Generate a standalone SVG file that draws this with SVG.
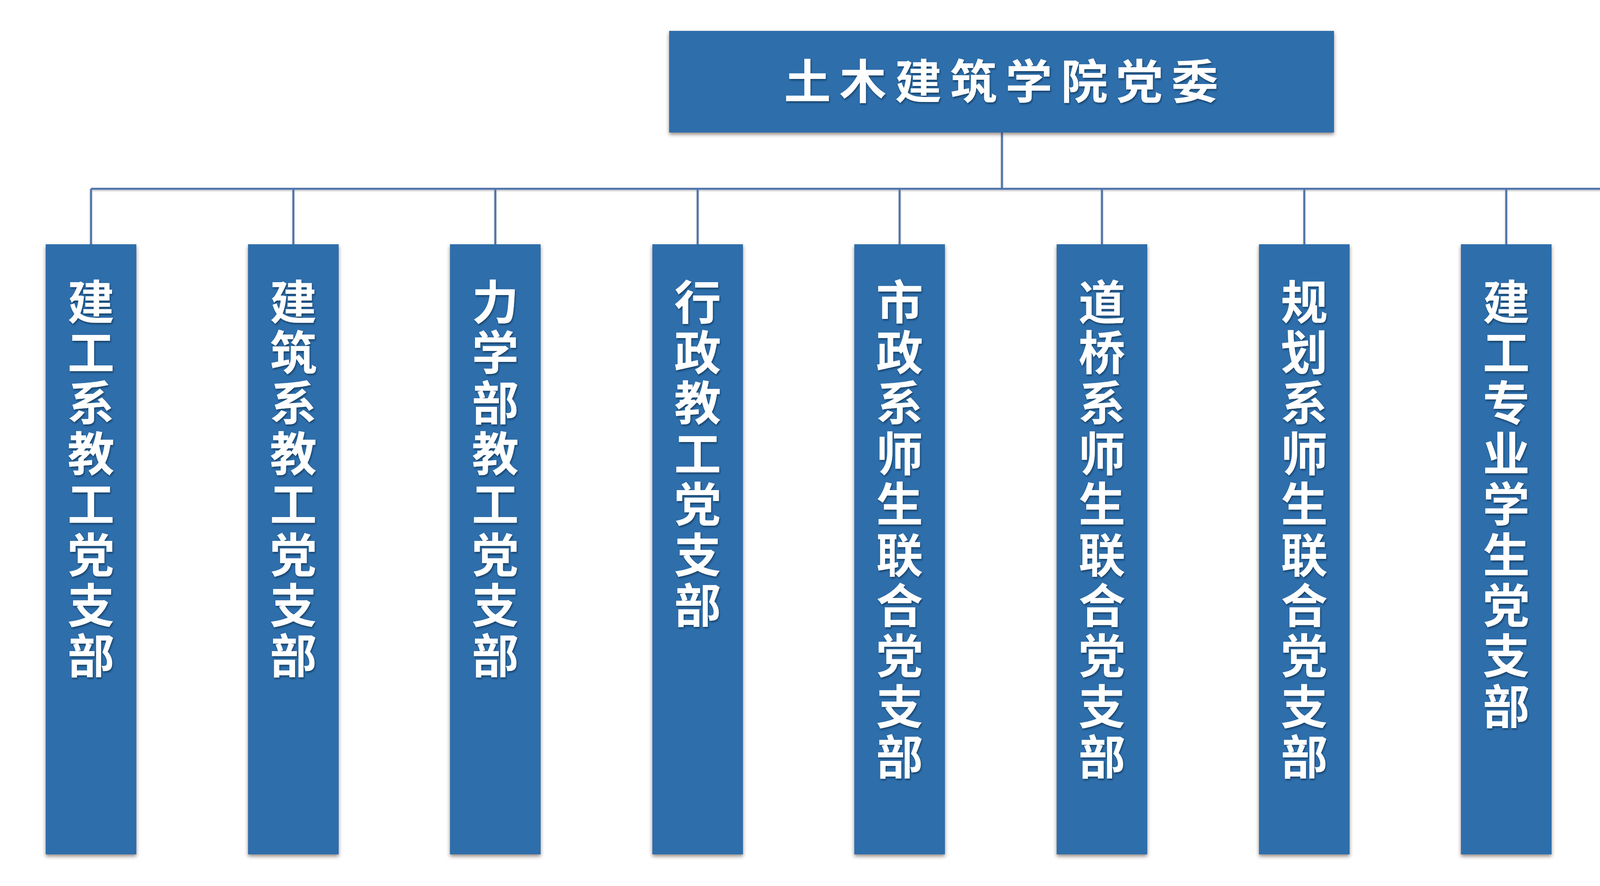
<svg xmlns="http://www.w3.org/2000/svg" width="5120" height="2267" viewBox="0 0 5120 2267">
<defs>
<filter id="boxShadow" x="-10%" y="-5%" width="120%" height="115%">
<feDropShadow dx="0" dy="5" stdDeviation="5" flood-color="#3a2a20" flood-opacity="0.55"/>
</filter>
<filter id="txtShadow" x="-10%" y="-10%" width="120%" height="130%">
<feDropShadow dx="2" dy="4" stdDeviation="2" flood-color="#123456" flood-opacity="0.75"/>
</filter>
<filter id="lineShadow" x="-5%" y="-50%" width="110%" height="200%">
<feDropShadow dx="0" dy="3" stdDeviation="2" flood-color="#000" flood-opacity="0.25"/>
</filter>
</defs>
<style>
.box{fill:#2f6eab;filter:url(#boxShadow);}
.lbl{font-family:"Noto Sans CJK SC","Noto Sans CJK TC",sans-serif;font-weight:700;fill:#ffffff;font-size:120px;filter:url(#txtShadow);}
.title{text-anchor:middle;}
.vert{writing-mode:vertical-rl;text-orientation:upright;letter-spacing:9.4px;text-anchor:start;}
.conn{stroke:#4e73ab;stroke-width:5;fill:none;filter:url(#lineShadow);}
</style>
<rect x="0" y="0" width="5120" height="2267" fill="#ffffff"/>
<g id="connectors">
<path class="conn" d="M2565 339 V483 M233 483 H4891 M233 483 V625 M751 483 V625 M1268 483 V625 M1786 483 V625 M2303 483 V625 M2821 483 V625 M3339 483 V625 M3856 483 V625 M4374 483 V625 M4891 483 V625"/>
</g>
<g id="root">
<rect class="box" x="1713" y="79" width="1702" height="260"/>
<text class="lbl title" y="253" x="2067 2209 2351 2492 2634 2776 2917 3059">土木建筑学院党委</text>
</g>
<g id="n1">
<rect class="box" x="117" y="625" width="232" height="1561"/>
<text class="lbl vert" x="233" y="712">建工系教工党支部</text>
</g>
<g id="n2">
<rect class="box" x="635" y="625" width="232" height="1561"/>
<text class="lbl vert" x="751" y="712">建筑系教工党支部</text>
</g>
<g id="n3">
<rect class="box" x="1152" y="625" width="232" height="1561"/>
<text class="lbl vert" x="1268" y="712">力学部教工党支部</text>
</g>
<g id="n4">
<rect class="box" x="1670" y="625" width="232" height="1561"/>
<text class="lbl vert" x="1786" y="712">行政教工党支部</text>
</g>
<g id="n5">
<rect class="box" x="2187" y="625" width="232" height="1561"/>
<text class="lbl vert" x="2303" y="712">市政系师生联合党支部</text>
</g>
<g id="n6">
<rect class="box" x="2705" y="625" width="232" height="1561"/>
<text class="lbl vert" x="2821" y="712">道桥系师生联合党支部</text>
</g>
<g id="n7">
<rect class="box" x="3223" y="625" width="232" height="1561"/>
<text class="lbl vert" x="3339" y="712">规划系师生联合党支部</text>
</g>
<g id="n8">
<rect class="box" x="3740" y="625" width="232" height="1561"/>
<text class="lbl vert" x="3856" y="712">建工专业学生党支部</text>
</g>
<g id="n9">
<rect class="box" x="4258" y="625" width="232" height="1561"/>
<text class="lbl vert" x="4374" y="712">建筑学专业学生党支部</text>
</g>
<g id="n10">
<rect class="box" x="4775" y="625" width="232" height="1561"/>
<text class="lbl vert" x="4891" y="712">研究生党支部</text>
</g>
</svg>
